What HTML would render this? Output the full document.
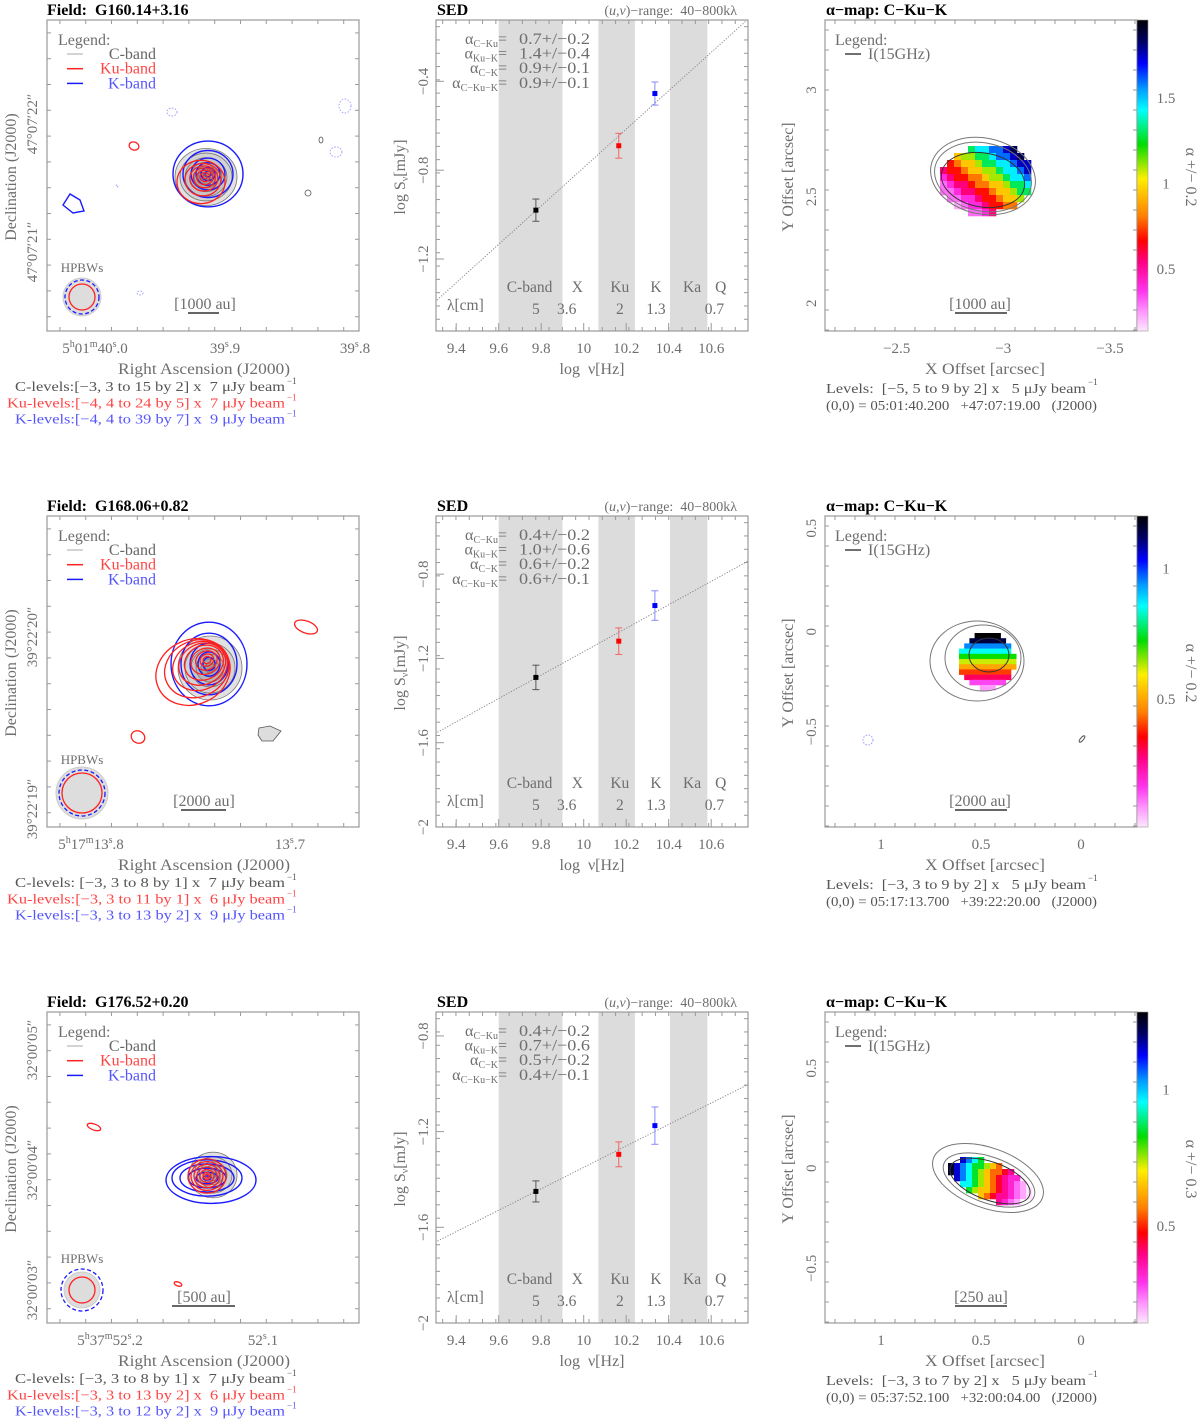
<!DOCTYPE html>
<html><head><meta charset="utf-8">
<style>
html,body{margin:0;padding:0;background:#fff}
svg{display:block}
text{font-family:"Liberation Serif",serif;white-space:pre}
</style></head>
<body>
<svg id="fig" width="1200" height="1421" viewBox="0 0 1200 1421" xmlns="http://www.w3.org/2000/svg">
<defs>
<linearGradient id="cmap" x1="0" y1="1" x2="0" y2="0">
<stop offset="0" stop-color="#fde8fd"/><stop offset="0.06" stop-color="#ff99ff"/><stop offset="0.13" stop-color="#ff33ee"/>
<stop offset="0.22" stop-color="#ff0088"/><stop offset="0.29" stop-color="#ff0000"/><stop offset="0.37" stop-color="#ff8000"/>
<stop offset="0.49" stop-color="#ffee00"/><stop offset="0.6" stop-color="#00dd00"/><stop offset="0.71" stop-color="#00ffff"/>
<stop offset="0.78" stop-color="#0099ff"/><stop offset="0.86" stop-color="#0000ff"/><stop offset="0.93" stop-color="#000066"/><stop offset="1" stop-color="#000000"/>
</linearGradient>
</defs>
</svg>
<script>
// ---------- SED data ----------
const sedBandNames = ["C-band","X","Ku","K","Ka","Q"];
const sedBandNameX = [9.745,9.97,10.17,10.34,10.51,10.645];
const sedWaves = ["5","3.6","2","1.3","0.7"];
const sedWaveX = [9.775,9.92,10.17,10.34,10.615];
const sedShade = [[9.6,9.9],[10.069,10.241],[10.406,10.582]];
const sedXTicks = [9.4,9.6,9.8,10,10.2,10.4,10.6];
const sedFreq = [9.775,10.165,10.335];
const sedLogS1 = [-0.98,-0.69,-0.455];
const sedErr1 = [0.05,0.056,0.052];
const sedLogS2 = [-1.29,-1.118,-0.949];
const sedErr2 = [0.058,0.063,0.07];
const sedLogS3 = [-1.45,-1.295,-1.175];
const sedErr3 = [0.044,0.052,0.078];
const fitSlope = [0.864,0.556,0.448];
const fitAt93 = [-1.393,-1.557,-1.663];
const sedYDom = [[-1.524,-0.124],[-2.0,-0.524],[-2.0,-0.7]];
const sedYTicks1 = [-0.4,-0.8,-1.2];
const sedYTicks2 = [-0.8,-1.2,-1.6,-2];
const sedYTicks3 = [-0.8,-1.2,-1.6,-2];
const alphaText1 = ["0.7+/\u22120.2","1.4+/\u22120.4","0.9+/\u22120.1","0.9+/\u22120.1"];
const alphaText2 = ["0.4+/\u22120.2","1.0+/\u22120.6","0.6+/\u22120.2","0.6+/\u22120.1"];
const alphaText3 = ["0.4+/\u22120.2","0.7+/\u22120.6","0.5+/\u22120.2","0.4+/\u22120.1"];
// ---------- alpha-map data ----------
const stripes1 = [0.15,0.22,0.3,0.4,0.55,0.68,0.8,0.95,1.1,1.3,1.45,1.6,1.75,1.85,1.95];
const stripes2 = [0.08,0.15,0.3,0.4,0.5,0.62,0.72,0.85,0.95,1.05,1.15,1.2];
const stripes3 = [0.15,0.2,0.25,0.32,0.38,0.45,0.55,0.65,0.75,0.85,0.95,1.05,1.15,1.25];
const cbDom = [[0.137,1.956],[0.01,1.2],[0.144,1.285]];
const cbTicks1 = [0.5,1,1.5];
const cbTicks2 = [0.5,1];
const cbTicks3 = [0.5,1];

const NS="http://www.w3.org/2000/svg";
const svg=document.getElementById('fig');
function mk(tag,attrs,parent){const e=document.createElementNS(NS,tag);for(const k in attrs)e.setAttribute(k,attrs[k]);(parent||svg).appendChild(e);return e;}
function nm(el,name){


return el;}
function txt(x,y,s,attrs,parent){const t=mk('text',Object.assign({x:x,y:y},attrs||{}),parent);t.textContent=s;return t;}

const rowTop=[20,516,1012], H=311;
const L={x0:47,x1:359}, M={x0:436,x1:748}, R={x0:825,x1:1137};
const GREY="#6e6e6e";

function frame(g,x0,x1,y0,name,step){
  const r=mk('rect',{x:x0,y:y0,width:x1-x0,height:H,fill:'none',stroke:'#999','stroke-width':1.2},g);
  nm(r,name+'-frame');
  const tg=mk('g',{stroke:'#999','stroke-width':1},g);
  nm(tg,name+'-minor-ticks');
  for(let x=x0+step/2;x<x1;x+=step){mk('line',{x1:x,y1:y0,x2:x,y2:y0+4},tg);mk('line',{x1:x,y1:y0+H,x2:x,y2:y0+H-4},tg);}
  for(let y=y0+step/2;y<y0+H;y+=step){mk('line',{x1:x0,y1:y,x2:x0+4,y2:y},tg);mk('line',{x1:x1,y1:y,x2:x1-4,y2:y},tg);}
}
function rotText(x,y,s,name,size,color,angle){
  const t=txt(x,y,s,{'font-size':size,fill:color,'text-anchor':'middle',transform:`rotate(${angle||-90} ${x} ${y})`});
  nm(t,name);return t;
}

// ================= LEFT PANELS =================
const leftInfo=[
 {field:"G160.14+3.16", ylab:[["47°07′22″",124],["47°07′21″",252]],
  xlab:[["5","h","01","m","40","s",".0",95],["39","s",".9",225],["39","s",".8",355]],
  levels:[["C-levels:[−3, 3 to 15 by 2] x  7 μJy beam","#555",15],["Ku-levels:[−4, 4 to 24 by 5] x  7 μJy beam","#ff4444",7],["K-levels:[−4, 4 to 39 by 7] x  9 μJy beam","#5555ff",15]],
  scale:"[1000 au]", sb:[188,219,313], st:[205,309],
  beam:{c:[82,297],g:19,r:13,b:17}, hp:[82,272],
  C:{c:[206,177],r:[31,26,21,16,12,8,4],k:0.92},
  Ku:{c:[205,177],r:[24,18,14,11,8,5,2],k:0.9,off:[-4,5]},
  K:{c:[208,174],r:[35,25,17,12,7,3],k:0.94},
  extraRed:[[134,146,5,4,20]], extraBlue:[[73,205]], dots:[[172,112,5,4],[345,106,6,7],[336,152,6,5],[140,293,3,2],[117,186,1,1]], greys:[[321,140,2,3],[308,193,3,3]]},
 {field:"G168.06+0.82", ylab:[["39°22′20″",637],["39°22′19″",809]],
  xlab:[["5","h","17","m","13","s",".8",91],["13","s",".7",290]],
  levels:[["C-levels: [−3, 3 to 8 by 1] x  7 μJy beam","#555",15],["Ku-levels:[−3, 3 to 11 by 1] x  6 μJy beam","#ff4444",7],["K-levels:[−3, 3 to 13 by 2] x  9 μJy beam","#5555ff",15]],
  scale:"[2000 au]", sb:[181,226,810], st:[204,806],
  beam:{c:[82,793],g:26,r:20,b:23}, hp:[82,764],
  C:{c:[210,668],r:[32,25,19,14,9,5],k:1.0},
  Ku:{c:[207,660],r:[38,33,28,24,20,15,11,7,4],k:0.85,off:[-14,12],rot:-25},
  K:{c:[209,664],r:[38,28,19,11,6],k:1.1},
  extraRed:[[306,627,12,6,20],[138,737,7,6,30]], extraBlue:[], dots:[], greys:[], greyPoly:"259,728 270,726 281,731 273,741 262,741 258,735"},
 {field:"G176.52+0.20", ylab:[["32°00′05″",1050],["32°00′04″",1170],["32°00′03″",1290]],
  xlab:[["5","h","37","m","52","s",".2",110],["52","s",".1",263]],
  levels:[["C-levels: [−3, 3 to 8 by 1] x  7 μJy beam","#555",15],["Ku-levels:[−3, 3 to 13 by 2] x  6 μJy beam","#ff4444",7],["K-levels:[−3, 3 to 12 by 2] x  9 μJy beam","#5555ff",15]],
  scale:"[500 au]", sb:[172,235,1306], st:[204,1302],
  beam:{c:[82,1290],g:18,r:13,b:21}, hp:[82,1263],
  C:{c:[213,1175],r:[24,19,14,10,6,3],k:0.95},
  Ku:{c:[207,1176],r:[19,16,13,10,7,4,2],k:0.9},
  K:{c:[207,1178],r:[45,35,27,19,11,4],k:0.52,off:[4,2]},
  extraRed:[[94,1127,7,3,20],[178,1284,4,2,20]], extraBlue:[], dots:[], greys:[]}
];

leftInfo.forEach((p,i)=>{
  const y0=rowTop[i];
  const g=mk('g',{},svg); nm(g,'field-map-panel-'+(i+1));
  const t=txt(47,y0-5,"Field:  "+p.field,{'font-size':16,'font-weight':'bold',fill:'#000'},g); nm(t,'field-title');
  frame(g,L.x0,L.x1,y0,'field-map',25.8);
  const cg=mk('g',{},g); nm(cg,'c-band-contours');
  p.C.r.forEach((r,j)=>{const e=mk('ellipse',{cx:p.C.c[0],cy:p.C.c[1],rx:r,ry:r*p.C.k,fill:`rgb(${225-j*14},${225-j*14},${225-j*14})`,stroke:'#777','stroke-width':0.8},cg);nm(e,'c-band-contour');});
  const kg=mk('g',{fill:'none',stroke:'#1a1aff','stroke-width':1.4},g); nm(kg,'k-band-contours');
  p.K.r.forEach((r,j)=>{const off=p.K.off&&j==0?p.K.off:[0,0];const e=mk('ellipse',{cx:p.K.c[0]+off[0],cy:p.K.c[1]+off[1],rx:r,ry:r*p.K.k},kg);nm(e,'k-band-contour');});
  const rg=mk('g',{fill:'none',stroke:'#ff2020','stroke-width':1.3},g); nm(rg,'ku-band-contours');
  p.Ku.r.forEach((r,j)=>{const n=p.Ku.r.length;const f=p.Ku.off?Math.max(0,(r-p.Ku.r[n-1])/(p.Ku.r[0]-p.Ku.r[n-1])):0;
    const cx=p.Ku.c[0]+(p.Ku.off?p.Ku.off[0]*f*f:0), cy=p.Ku.c[1]+(p.Ku.off?p.Ku.off[1]*f*f:0);
    const e=mk('ellipse',{cx:cx,cy:cy,rx:r,ry:r*p.Ku.k,transform:`rotate(${p.Ku.rot||0} ${cx} ${cy})`},rg);nm(e,'ku-band-contour');});
  p.extraRed.forEach(q=>{const e=mk('ellipse',{cx:q[0],cy:q[1],rx:q[2],ry:q[3],transform:`rotate(${q[4]} ${q[0]} ${q[1]})`,fill:'none',stroke:'#ff2020','stroke-width':1.3},g);nm(e,'ku-band-noise-contour');});
  p.extraBlue.forEach(q=>{const e=mk('polygon',{points:`${q[0]-10},${q[1]} ${q[0]-3},${q[1]-11} ${q[0]+7},${q[1]-5} ${q[0]+11},${q[1]+6} ${q[0]},${q[1]+8}`,fill:'none',stroke:'#1a1aff','stroke-width':1.4},g);nm(e,'k-band-noise-contour');});
  p.dots.forEach(q=>{const e=mk('ellipse',{cx:q[0],cy:q[1],rx:q[2],ry:q[3],fill:'none',stroke:'#9999ff','stroke-width':0.9,'stroke-dasharray':'1.5 1.5'},g);nm(e,'negative-contour');});
  p.greys.forEach(q=>{const e=mk('ellipse',{cx:q[0],cy:q[1],rx:q[2],ry:q[3],fill:'none',stroke:'#555','stroke-width':0.8},g);nm(e,'c-band-noise-contour');});
  if(p.greyPoly){const e=mk('polygon',{points:p.greyPoly,fill:'#ddd',stroke:'#555','stroke-width':0.8},g);nm(e,'c-band-noise-contour');}
  const lg=mk('g',{},g); nm(lg,'band-legend');
  nm(txt(58,y0+25,"Legend:",{'font-size':16,fill:GREY},lg),'legend-title');
  [["C-band","#aaa","#666"],["Ku-band","#ff2020","#ff4444"],["K-band","#1a1aff","#5555ff"]].forEach((b,j)=>{
    const yy=y0+34+j*14.7;
    nm(mk('line',{x1:67,y1:yy,x2:83,y2:yy,stroke:b[1],'stroke-width':b[0]=="C-band"?1:1.5},lg),'legend-swatch-'+b[0]);
    nm(txt(156,yy+5,b[0],{'font-size':16,fill:b[2],'text-anchor':'end'},lg),'legend-entry-'+b[0]);
  });
  const bg=mk('g',{},g); nm(bg,'hpbw-beams');
  nm(txt(p.hp[0],p.hp[1],"HPBWs",{'font-size':13,fill:GREY,'text-anchor':'middle'},bg),'hpbw-label');
  nm(mk('circle',{cx:p.beam.c[0],cy:p.beam.c[1],r:p.beam.g,fill:'#ddd',stroke:'#ccc'},bg),'c-band-beam');
  nm(mk('circle',{cx:p.beam.c[0],cy:p.beam.c[1],r:p.beam.b,fill:'none',stroke:'#1a1aff','stroke-width':1.3,'stroke-dasharray':'4 2.5'},bg),'k-band-beam');
  nm(mk('circle',{cx:p.beam.c[0],cy:p.beam.c[1],r:p.beam.r,fill:'none',stroke:'#ff2020','stroke-width':1.3},bg),'ku-band-beam');
  nm(txt(p.st[0],p.st[1],p.scale,{'font-size':16,fill:GREY,'text-anchor':'middle'},g),'scale-bar-label');
  nm(mk('line',{x1:p.sb[0],y1:p.sb[2],x2:p.sb[1],y2:p.sb[2],stroke:'#333','stroke-width':1.4},g),'scale-bar');
  p.ylab.forEach(l=>rotText(37,l[1],l[0],'dec-tick-label',15,GREY));
  rotText(16,y0+157,"Declination (J2000)",'y-axis-title',16,GREY);
  p.xlab.forEach(l=>{
    const t=txt(l[l.length-1],y0+333,"",{'font-size':15,fill:GREY,'text-anchor':'middle'},g);nm(t,'ra-tick-label');
    for(let k=0;k<l.length-1;k++){const ts=mk('tspan',{},t);ts.textContent=l[k];
      if(["h","m","s"].includes(l[k])){ts.setAttribute('font-size','10');ts.setAttribute('dy','-6');}
      else if(k>0&&["h","m","s"].includes(l[k-1])){ts.setAttribute('dy','6');}
      nm(ts,'ra-tick-part');}
  });
  nm(txt(204,y0+354,"Right Ascension (J2000)",{'font-size':16,fill:GREY,'text-anchor':'middle',textLength:172,lengthAdjust:'spacingAndGlyphs'},g),'x-axis-title');
  p.levels.forEach((l,j)=>{
    const t=txt(l[2],y0+371+j*16.3,l[0],{'font-size':14,fill:l[1],textLength:285-l[2],lengthAdjust:'spacingAndGlyphs'},g);nm(t,'contour-levels-note');
    nm(txt(287,y0+364+j*16.3,"−1",{'font-size':9,fill:l[1]},g),'levels-exponent');
  });
});

// ================= SED PANELS =================
const sedS=[sedLogS1,sedLogS2,sedLogS3], sedE=[sedErr1,sedErr2,sedErr3], sedYT=[sedYTicks1,sedYTicks2,sedYTicks3], alphaT=[alphaText1,alphaText2,alphaText3];
const ptColors=["#000","#ff0000","#0000ff"], errColors=["#555","#e66","#88f"];
function xS(v){return 498.7+(v-9.6)*212.5;}
for(let i=0;i<3;i++){
  const y0=rowTop[i], dom=sedYDom[i];
  const yS=v=>y0+H-(v-dom[0])/(dom[1]-dom[0])*H;
  const g=mk('g',{},svg); nm(g,'sed-panel-'+(i+1));
  const cid='clipS'+i; const cp=mk('clipPath',{id:cid},g); mk('rect',{x:M.x0,y:y0,width:M.x1-M.x0,height:H},cp);
  sedShade.forEach(s=>nm(mk('rect',{x:xS(s[0]),y:y0,width:xS(s[1])-xS(s[0]),height:H,fill:'#dcdcdc'},g),'band-shading'));
  frame(g,M.x0,M.x1,y0,'sed',13.3);
  nm(txt(437,y0-5,"SED",{'font-size':16,'font-weight':'bold',fill:'#000'},g),'sed-title');
  const ht=txt(737,y0-5,"",{'font-size':14,fill:GREY,'text-anchor':'end'},g);nm(ht,'uv-range-note');
  ht.innerHTML='(<tspan font-style="italic">u,v</tspan>)−range:  40−800kλ';
  const lx0=9.3, lx1=10.78;
  nm(mk('line',{x1:xS(lx0),y1:yS(fitAt93[i]),x2:xS(lx1),y2:yS(fitAt93[i]+fitSlope[i]*(lx1-9.3)),stroke:'#888','stroke-width':1,'stroke-dasharray':'1.2 1.6','clip-path':`url(#${cid})`},g),'power-law-fit');
  for(let k=0;k<3;k++){
    const x=xS(sedFreq[k]), y=yS(sedS[i][k]), e1=yS(sedS[i][k]+sedE[i][k]), e2=yS(sedS[i][k]-sedE[i][k]);
    const eg=mk('g',{stroke:errColors[k],'stroke-width':1},g); nm(eg,'error-bar');
    mk('line',{x1:x,y1:e1,x2:x,y2:e2},eg);mk('line',{x1:x-3.5,y1:e1,x2:x+3.5,y2:e1},eg);mk('line',{x1:x-3.5,y1:e2,x2:x+3.5,y2:e2},eg);
    nm(mk('rect',{x:x-2.5,y:y-2.5,width:5,height:5,fill:ptColors[k]},g),'flux-point-'+["c","ku","k"][k]);
  }
  const subs=["C−Ku","Ku−K","C−K","C−Ku−K"];
  subs.forEach((s,j)=>{
    const yy=y0+24+j*14.6;
    const t=txt(507,yy,"",{'font-size':16,fill:GREY,'text-anchor':'end'},g);nm(t,'alpha-label');
    t.innerHTML=`α<tspan font-size="10" dy="3">${s}</tspan><tspan dy="-3">=</tspan>`;
    nm(txt(519,yy,alphaT[i][j],{'font-size':16,fill:GREY,textLength:71,lengthAdjust:'spacingAndGlyphs'},g),'alpha-value');
  });
  sedBandNames.forEach((b,j)=>nm(txt(xS(sedBandNameX[j]),y0+272,b,{'font-size':15.5,fill:GREY,'text-anchor':'middle'},g),'band-name'));
  sedWaves.forEach((w,j)=>nm(txt(xS(sedWaveX[j]),y0+294,w,{'font-size':15.5,fill:GREY,'text-anchor':'middle'},g),'wavelength-label'));
  nm(txt(447,y0+290,"λ[cm]",{'font-size':15.5,fill:GREY},g),'wavelength-axis-label');
  sedXTicks.forEach(v=>{nm(mk('line',{x1:xS(v),y1:y0+H,x2:xS(v),y2:y0+H-8,stroke:'#999'},g),'x-major-tick');
    nm(txt(xS(v),y0+333,String(v),{'font-size':15,fill:GREY,'text-anchor':'middle'},g),'x-tick-label');});
  sedYT[i].forEach(v=>{nm(mk('line',{x1:M.x0,y1:yS(v),x2:M.x0+8,y2:yS(v),stroke:'#999'},g),'y-major-tick');
    rotText(428,yS(v),String(v).replace('-','−'),'y-tick-label',15,GREY);});
  const yt=txt(405,y0+157,"",{'font-size':16,fill:GREY,'text-anchor':'middle',transform:`rotate(-90 405 ${y0+157})`},g);nm(yt,'y-axis-title');
  yt.innerHTML='log S<tspan font-size="10" dy="3">ν</tspan><tspan dy="-3">[mJy]</tspan>';
  const xt=txt(592,y0+354,"",{'font-size':16,fill:GREY,'text-anchor':'middle'},g);nm(xt,'x-axis-title');
  xt.textContent="log  ν[Hz]";
}

// ================= ALPHA MAP PANELS =================
const stripes=[stripes1,stripes2,stripes3], cbT=[cbTicks1,cbTicks2,cbTicks3];
const rightInfo=[
 {xt:[[-2.5,896.7],[-3,1003.3],[-3.5,1110]], yt:[[3,90],[2.5,196.7],[2,303.3]],
  mask:{c:[987,179],rx:47,ry:35,rot:-10}, cell:7, dir:[0.62,-0.78], span:52,
  cont:[[983,176,53,38,12],[983,177,49,34,12],[983,180,42,27,10]], neg:[],
  scale:"[1000 au]", sb:[955,1007,313], st:[980,309], err:"0.2",
  lv:"Levels:  [−5, 5 to 9 by 2] x   5 μJy beam", org:"(0,0) = 05:01:40.200   +47:07:19.00   (J2000)"},
 {xt:[[1,881],[0.5,981],[0,1081]], yt:[[0.5,528.3],[0,631.7],[-0.5,731.7]],
  mask:{c:[987,661],rx:28,ry:28,rot:0}, cell:5.2, dir:[0,-1], span:30,
  cont:[[977,661,47,40,0],[983,658,38,33,0],[989,655,20,17,0]], neg:[[868,740,5,5]],
  scale:"[2000 au]", sb:[955,1007,810], st:[980,806], err:"0.2",
  lv:"Levels:  [−3, 3 to 9 by 2] x   5 μJy beam", org:"(0,0) = 05:17:13.700   +39:22:20.00   (J2000)"},
 {xt:[[1,881],[0.5,981],[0,1081]], yt:[[0.5,1068.3],[0,1168.3],[-0.5,1268.3]],
  mask:{c:[990,1181],rx:42,ry:19,rot:20}, cell:6, dir:[-0.95,-0.3], span:44,
  cont:[[988,1178,58,30,20],[989,1180,48,23,20],[990,1181,42,19,20]], neg:[],
  scale:"[250 au]", sb:[955,1007,1306], st:[981,1302], err:"0.3",
  lv:"Levels:  [−3, 3 to 7 by 2] x   5 μJy beam", org:"(0,0) = 05:37:52.100   +32:00:04.00   (J2000)"}
];
const cstops=[[0,[253,232,253]],[0.06,[255,153,255]],[0.13,[255,51,238]],[0.22,[255,0,136]],[0.29,[255,0,0]],[0.37,[255,128,0]],[0.49,[255,238,0]],[0.6,[0,221,0]],[0.71,[0,255,255]],[0.78,[0,153,255]],[0.86,[0,0,255]],[0.93,[0,0,102]],[1,[0,0,0]]];
function cmap(f){f=Math.max(0,Math.min(1,f));for(let k=1;k<cstops.length;k++){if(f<=cstops[k][0]){const a=cstops[k-1],b=cstops[k],t=(f-a[0])/(b[0]-a[0]);return `rgb(${a[1].map((v,j)=>Math.round(v+(b[1][j]-v)*t)).join(',')})`;}}return '#000';}

rightInfo.forEach((p,i)=>{
  const y0=rowTop[i];
  const g=mk('g',{},svg); nm(g,'alpha-map-panel-'+(i+1));
  nm(txt(826,y0-5,"α−map: C−Ku−K",{'font-size':16,'font-weight':'bold',fill:'#000'},g),'alpha-map-title');
  const cg=mk('g',{},g); nm(cg,'spectral-index-cells');
  const m=p.mask, th=m.rot*Math.PI/180, s=p.cell, st=stripes[i], dom=cbDom[i];
  for(let yy=m.c[1]-m.rx-s;yy<m.c[1]+m.rx+s;yy+=s){
    for(let xx=m.c[0]-m.rx-s;xx<m.c[0]+m.rx+s;xx+=s){
      const dx=xx+s/2-m.c[0], dy=yy+s/2-m.c[1];
      const u=dx*Math.cos(th)+dy*Math.sin(th), v=-dx*Math.sin(th)+dy*Math.cos(th);
      if((u*u)/(m.rx*m.rx)+(v*v)/(m.ry*m.ry)>1) continue;
      const pr=(dx*p.dir[0]+dy*p.dir[1]+p.span)/(2*p.span);
      const idx=Math.max(0,Math.min(st.length-1,Math.floor(pr*st.length)));
      const c=mk('rect',{x:xx,y:yy,width:s+0.3,height:s+0.3,fill:cmap((st[idx]-dom[0])/(dom[1]-dom[0]))},cg);
      
      
    }
  }
  p.cont.forEach((q,j)=>nm(mk('ellipse',{cx:q[0],cy:q[1],rx:q[2],ry:q[3],transform:`rotate(${q[4]} ${q[0]} ${q[1]})`,fill:'none',stroke:j==2?'#333':'#777','stroke-width':1},g),'intensity-contour'));
  p.neg.forEach(q=>nm(mk('ellipse',{cx:q[0],cy:q[1],rx:q[2],ry:q[3],fill:'none',stroke:'#99f','stroke-dasharray':'1.5 1.5'},g),'negative-contour'));
  if(i==1) nm(mk('ellipse',{cx:1082,cy:739,rx:1.5,ry:4,transform:'rotate(40 1082 739)',fill:'none',stroke:'#555'},g),'noise-contour');
  frame(g,R.x0,R.x1,y0,'alpha-map',20);
  nm(txt(835,y0+25,"Legend:",{'font-size':16,fill:GREY},g),'legend-title');
  nm(mk('line',{x1:845,y1:y0+34,x2:861,y2:y0+34,stroke:'#333','stroke-width':1.4},g),'legend-swatch');
  nm(txt(868,y0+39,"I(15GHz)",{'font-size':16,fill:GREY},g),'legend-entry-i15ghz');
  nm(txt(p.st[0],p.st[1],p.scale,{'font-size':16,fill:GREY,'text-anchor':'middle'},g),'scale-bar-label');
  nm(mk('line',{x1:p.sb[0],y1:p.sb[2],x2:p.sb[1],y2:p.sb[2],stroke:'#333','stroke-width':1.4},g),'scale-bar');
  nm(mk('rect',{x:1137,y:y0,width:11,height:H,fill:'url(#cmap)',stroke:'#999','stroke-width':0.6},g),'colorbar');
  const cbS=v=>y0+H-(v-dom[0])/(dom[1]-dom[0])*H;
  cbT[i].forEach(v=>nm(txt(1166,cbS(v)+5,String(v),{'font-size':15,fill:GREY,'text-anchor':'middle'},g),'colorbar-tick-label'));
  rotText(1186,y0+157,"α +/− "+p.err,'colorbar-title',16,GREY,90);
  p.xt.forEach(t=>nm(txt(t[1],y0+333,String(t[0]).replace('-','−'),{'font-size':15,fill:GREY,'text-anchor':'middle'},g),'x-tick-label'));
  p.yt.forEach(t=>rotText(816,t[1],String(t[0]).replace('-','−'),'y-tick-label',15,GREY));
  rotText(793,y0+157,"Y Offset [arcsec]",'y-axis-title',16,GREY);
  nm(txt(985,y0+354,"X Offset [arcsec]",{'font-size':16,fill:GREY,'text-anchor':'middle',textLength:120,lengthAdjust:'spacingAndGlyphs'},g),'x-axis-title');
  nm(txt(826,y0+373,p.lv,{'font-size':14,fill:'#555',textLength:260,lengthAdjust:'spacingAndGlyphs'},g),'contour-levels-note');
  nm(txt(1088,y0+365,"−1",{'font-size':9,fill:'#555'},g),'levels-exponent');
  nm(txt(826,y0+390,p.org,{'font-size':14,fill:'#555',textLength:271,lengthAdjust:'spacingAndGlyphs'},g),'origin-note');
});
</script>
</body></html>
